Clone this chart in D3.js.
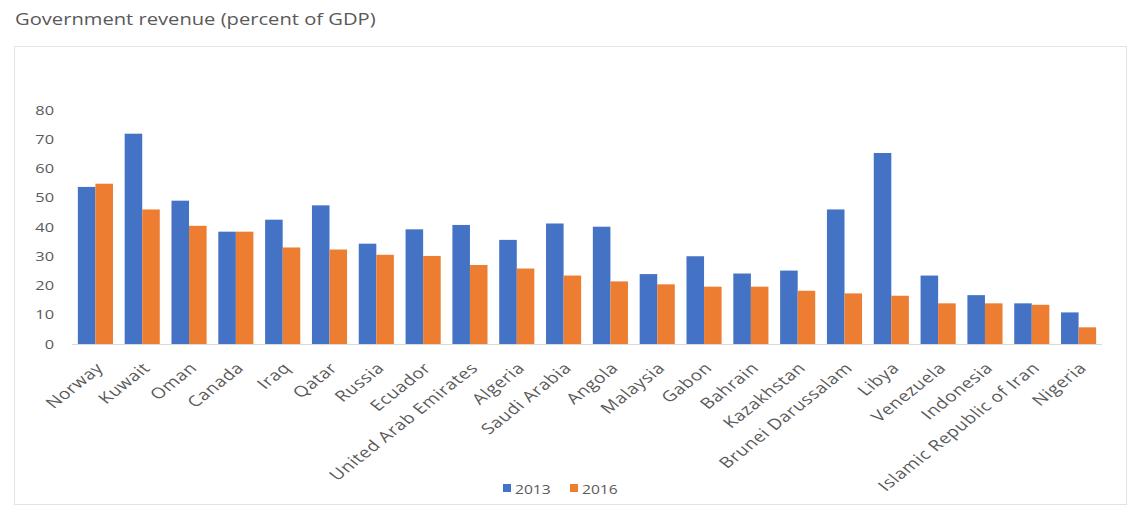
<!DOCTYPE html>
<html>
<head>
<meta charset="utf-8">
<script src="https://cdn.jsdelivr.net/npm/d3@7"></script>
<style>
  body { margin: 0; background: #fff; }
  svg text { font-family: "Open Sans", "Noto Sans", sans-serif; fill: #595959; }
</style>
</head>
<body>
<svg id="chart" width="1132" height="510"></svg>
<script>
// chart data
const countries = ["Norway", "Kuwait", "Oman", "Canada", "Iraq", "Qatar", "Russia", "Ecuador",
  "United Arab Emirates", "Algeria", "Saudi Arabia", "Angola", "Malaysia", "Gabon", "Bahrain",
  "Kazakhstan", "Brunei Darussalam", "Libya", "Venezuela", "Indonesia",
  "Islamic Republic of Iran", "Nigeria"];
const rev2013 = [53.7, 71.9, 49, 38.4, 42.5, 47.4, 34.3, 39.2, 40.7, 35.6, 41.2, 40.1, 23.9, 30,
  24.1, 25.1, 46, 65.3, 23.4, 16.7, 13.9, 10.8];
const rev2016 = [54.8, 46, 40.4, 38.4, 33, 32.3, 30.5, 30.1, 27, 25.8, 23.4, 21.4, 20.4, 19.6,
  19.6, 18.2, 17.3, 16.5, 13.9, 13.9, 13.4, 5.7];
const seriesNames = ["2013", "2016"];
const seriesColors = ["#4472C4", "#ED7D31"];
const yTicks = [0, 10, 20, 30, 40, 50, 60, 70, 80];

// the original picture is stretched sideways, text included
const SX = 1.26;

const svg = d3.select("#chart");

// outer frame + title
svg.append("rect")
  .attr("x", 14.5).attr("y", 46.5)
  .attr("width", 1112).attr("height", 458)
  .attr("fill", "none").attr("stroke", "#e3e3e3");

svg.append("text")
  .attr("transform", `translate(15,25) scale(${SX},1)`)
  .attr("font-size", 16)
  .text("Government revenue (percent of GDP)");

const x = d3.scaleBand().domain(countries).range([72, 1102]).paddingInner(0.25).paddingOuter(0.125);
const xSub = d3.scaleBand().domain(seriesNames).range([0, x.bandwidth()]);
const y = d3.scaleLinear().domain([0, 80]).range([344, 110]);

// y axis labels (no axis line)
const yAxis = svg.append("g")
  .attr("transform", "translate(54,0)")
  .call(d3.axisLeft(y).tickValues(yTicks).tickSize(0).tickPadding(0));
yAxis.select(".domain").remove();
yAxis.selectAll("text")
  .attr("font-size", 13)
  .attr("fill", "#595959")
  .attr("transform", `scale(${SX},1)`);

// bars
const rows = countries.map((c, i) => ({ c, vals: [rev2013[i], rev2016[i]] }));
const groups = svg.append("g").selectAll("g")
  .data(rows)
  .join("g")
  .attr("transform", d => `translate(${x(d.c)},0)`);

groups.selectAll("rect")
  .data(d => d.vals.map((v, k) => ({ k, v })))
  .join("rect")
  .attr("x", d => xSub(seriesNames[d.k]))
  .attr("y", d => y(d.v))
  .attr("width", xSub.bandwidth())
  .attr("height", d => y(0) - y(d.v))
  .attr("fill", d => seriesColors[d.k]);

// baseline
svg.append("line")
  .attr("x1", 72).attr("x2", 1102)
  .attr("y1", y(0) + 0.5).attr("y2", y(0) + 0.5)
  .attr("stroke", "#d9d9d9");

// category labels, rotated then stretched
const xAxis = svg.append("g")
  .attr("transform", `translate(0,${y(0)})`)
  .call(d3.axisBottom(x).tickSize(0).tickPadding(0));
xAxis.select(".domain").remove();
xAxis.selectAll("text")
  .attr("font-size", 15)
  .attr("letter-spacing", 0.5)
  .attr("fill", "#595959")
  .attr("text-anchor", "end")
  .attr("y", 0)
  .attr("dy", 0)
  .attr("transform", `translate(9,25) scale(${SX},1) rotate(-45)`);

// legend
const legend = svg.append("g").selectAll("g")
  .data(seriesNames)
  .join("g")
  .attr("transform", (d, i) => `translate(${503 + i * 67},489)`);
legend.append("rect")
  .attr("x", 0).attr("y", -5)
  .attr("width", 8).attr("height", 8)
  .attr("fill", (d, i) => seriesColors[i]);
legend.append("text")
  .attr("transform", "translate(12,4.5) scale(1.2,1)")
  .attr("font-size", 13)
  .text(d => d);
</script>
</body>
</html>
